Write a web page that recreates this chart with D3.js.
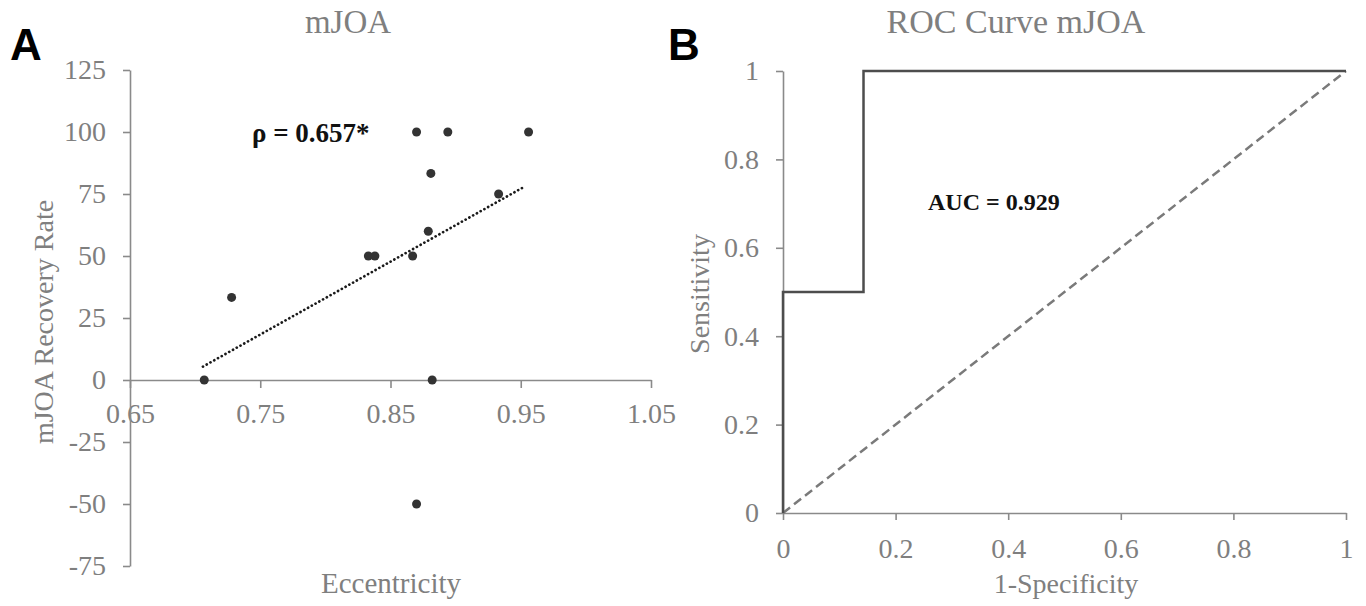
<!DOCTYPE html>
<html>
<head>
<meta charset="utf-8">
<script src="https://cdn.jsdelivr.net/npm/d3@7"></script>
<style>
  html, body { margin: 0; padding: 0; background: #fff; }
  svg { display: block; }
</style>
</head>
<body>
<svg id="chart" width="1366" height="606"></svg>
<script>
// ---------- Panel A data ----------
const eccentricity = [0.707, 0.728, 0.833, 0.838, 0.867, 0.870, 0.870, 0.879, 0.881, 0.882, 0.894, 0.933, 0.956];
const recoveryRate = [0, 33.3, 50, 50, 50, 100, -50, 60, 83.3, 0, 100, 75, 100];
const trendX = [0.706, 0.953];
const trendY = [5.4, 78];
const xTicksA = [0.65, 0.75, 0.85, 0.95, 1.05];
const yTicksA = [125, 100, 75, 50, 25, 0, -25, -50, -75];
const rhoLabel = "ρ = 0.657*";

// ---------- Panel B data ----------
const rocFPR = [0, 0, 0.143, 0.143, 1];
const rocTPR = [0, 0.5, 0.5, 1, 1];
const chanceFPR = [0, 1];
const chanceTPR = [0, 1];
const xTicksB = [0, 0.2, 0.4, 0.6, 0.8, 1];
const yTicksB = [0, 0.2, 0.4, 0.6, 0.8, 1];
const aucLabel = "AUC = 0.929";

const svg = d3.select("#chart");
const axisColor = "#8a8a8a";
const textColor = "#7f7f7f";
const serif = "'Liberation Serif', 'Times New Roman', serif";
const tickFont = 28;
const hyphen = f => d => f(d).replace("\u2212", "-");

function styleAxis(g) {
  g.select(".domain").attr("stroke", axisColor).attr("stroke-width", 1.6);
  g.selectAll(".tick line").attr("stroke", axisColor).attr("stroke-width", 1.6);
  g.selectAll(".tick text")
    .attr("fill", textColor)
    .attr("font-family", serif)
    .attr("font-size", tickFont);
}

// ================= Panel A =================
const xA = d3.scaleLinear().domain([0.65, 1.05]).range([130, 651]);
const yA = d3.scaleLinear().domain([-75, 125]).range([566, 70]);

const gA = svg.append("g");

gA.append("g")
  .attr("transform", `translate(0,${yA(0)})`)
  .call(d3.axisBottom(xA).tickValues(xTicksA).tickFormat(d3.format(".2f"))
        .tickSize(8).tickSizeOuter(0).tickPadding(15))
  .call(styleAxis);

gA.append("g")
  .attr("transform", `translate(${xA(0.65)},0)`)
  .call(d3.axisLeft(yA).tickValues(yTicksA).tickFormat(hyphen(d3.format("d")))
        .tickSize(7).tickSizeOuter(0).tickPadding(17))
  .call(styleAxis);

// trendline
gA.append("path")
  .datum(d3.zip(trendX, trendY))
  .attr("d", d3.line().x(d => xA(d[0])).y(d => yA(d[1])))
  .attr("fill", "none")
  .attr("stroke", "#1a1a1a")
  .attr("stroke-width", 2.7)
  .attr("stroke-linecap", "round")
  .attr("stroke-dasharray", "0.1,4.2");

// points
gA.selectAll("circle.pt")
  .data(d3.zip(eccentricity, recoveryRate))
  .join("circle")
  .attr("class", "pt")
  .attr("cx", d => xA(d[0]))
  .attr("cy", d => yA(d[1]))
  .attr("r", 4.5)
  .attr("fill", "#333");

gA.append("text")
  .attr("x", 252).attr("y", 142)
  .attr("font-family", serif)
  .attr("font-weight", "bold")
  .attr("font-size", 27)
  .attr("fill", "#111")
  .text(rhoLabel);

gA.append("text")
  .attr("x", 348).attr("y", 33)
  .attr("text-anchor", "middle")
  .attr("font-family", serif)
  .attr("font-size", 33)
  .attr("fill", textColor)
  .text("mJOA");

gA.append("text")
  .attr("x", 391).attr("y", 593)
  .attr("text-anchor", "middle")
  .attr("font-family", serif)
  .attr("font-size", 29)
  .attr("fill", textColor)
  .text("Eccentricity");

gA.append("text")
  .attr("transform", "translate(53,322) rotate(-90)")
  .attr("text-anchor", "middle")
  .attr("font-family", serif)
  .attr("font-size", 28)
  .attr("fill", textColor)
  .text("mJOA Recovery Rate");

svg.append("text")
  .attr("x", 10).attr("y", 60)
  .attr("font-family", "'Liberation Sans', Arial, sans-serif")
  .attr("font-weight", "bold")
  .attr("font-size", 44)
  .attr("fill", "#000")
  .text("A");

// ================= Panel B =================
const xB = d3.scaleLinear().domain([0, 1]).range([783, 1346]);
const yB = d3.scaleLinear().domain([0, 1]).range([513, 71]);

const gB = svg.append("g");

gB.append("g")
  .attr("transform", `translate(0,${yB(0)})`)
  .call(d3.axisBottom(xB).tickValues(xTicksB).tickFormat(d3.format("~g"))
        .tickSize(7).tickSizeOuter(0).tickPadding(18))
  .call(styleAxis);

gB.append("g")
  .attr("transform", `translate(${xB(0)},0)`)
  .call(d3.axisLeft(yB).tickValues(yTicksB).tickFormat(d3.format("~g"))
        .tickSize(7).tickSizeOuter(0).tickPadding(17))
  .call(styleAxis);

// chance diagonal
gB.append("path")
  .datum(d3.zip(chanceFPR, chanceTPR))
  .attr("d", d3.line().x(d => xB(d[0])).y(d => yB(d[1])))
  .attr("fill", "none")
  .attr("stroke", "#7a7a7a")
  .attr("stroke-width", 2.5)
  .attr("stroke-dasharray", "9,5");

// ROC curve
gB.append("path")
  .datum(d3.zip(rocFPR, rocTPR))
  .attr("d", d3.line().x(d => xB(d[0])).y(d => yB(d[1])))
  .attr("fill", "none")
  .attr("stroke", "#4d4d4d")
  .attr("stroke-width", 2.5);

gB.append("text")
  .attr("x", 928).attr("y", 210)
  .attr("font-family", serif)
  .attr("font-weight", "bold")
  .attr("font-size", 24)
  .attr("fill", "#111")
  .text(aucLabel);

gB.append("text")
  .attr("x", 1016).attr("y", 33)
  .attr("text-anchor", "middle")
  .attr("font-family", serif)
  .attr("font-size", 34)
  .attr("fill", textColor)
  .text("ROC Curve mJOA");

gB.append("text")
  .attr("x", 1066).attr("y", 593)
  .attr("text-anchor", "middle")
  .attr("font-family", serif)
  .attr("font-size", 28)
  .attr("fill", textColor)
  .text("1-Specificity");

gB.append("text")
  .attr("transform", "translate(709,294) rotate(-90)")
  .attr("text-anchor", "middle")
  .attr("font-family", serif)
  .attr("font-size", 28)
  .attr("fill", textColor)
  .text("Sensitivity");

svg.append("text")
  .attr("x", 668).attr("y", 60)
  .attr("font-family", "'Liberation Sans', Arial, sans-serif")
  .attr("font-weight", "bold")
  .attr("font-size", 44)
  .attr("fill", "#000")
  .text("B");
</script>
</body>
</html>
